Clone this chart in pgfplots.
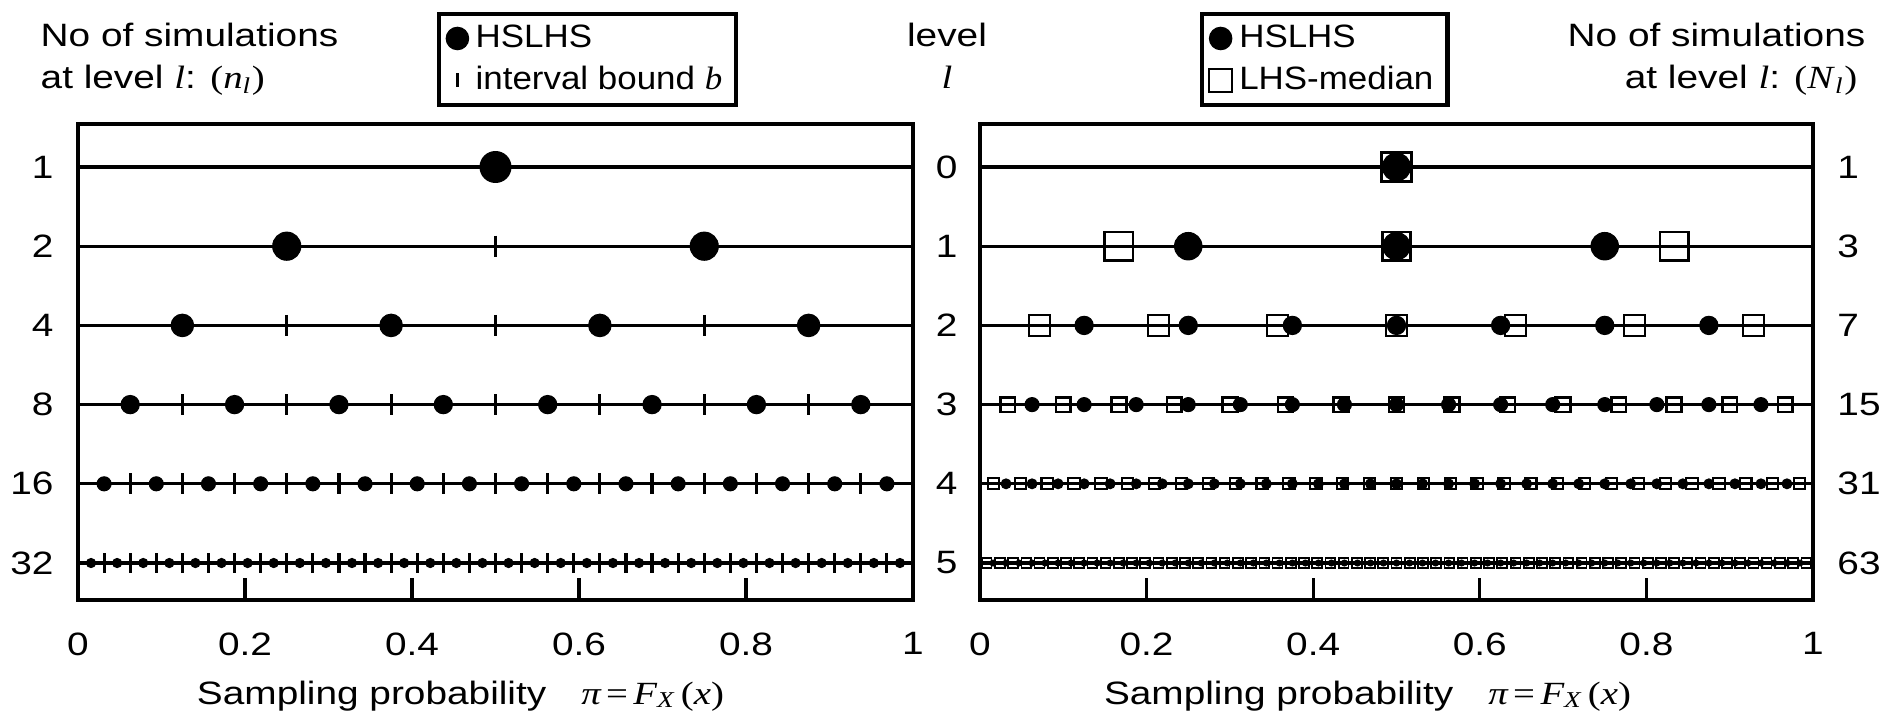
\documentclass[border=0pt]{standalone}
\usepackage{pgfplots}
\pgfplotsset{compat=1.18}
\usepackage{fontspec}
\setmainfont{Liberation Sans}[FakeStretch=1.2]
\newfontfamily\tms{Liberation Serif}[FakeStretch=1.2]
\newfontfamily\lgd{Liberation Sans}[FakeStretch=1.08]
\newfontfamily\lgdtms{Liberation Serif}[FakeStretch=1.08]

\pgfplotsset{
  panel/.style={
    scale only axis, width=83.5mm, height=47.6mm, anchor=south west,
    xmin=0, xmax=1, ymin=0.457, ymax=6.467, y dir=reverse,
    xtick={0,0.2,0.4,0.6,0.8,1}, xticklabels={0,0.2,0.4,0.6,0.8,1},
    xtick pos=bottom, tick align=inside, major tick length=2.2mm,
    xtick style={line width=0.9pt, black},
    xticklabel style={yshift=-2.1mm},
    ytick={1,2,3,4,5,6}, ytick pos=left, ytick style={draw=none},
    axis line style={line width=1.4pt},
    /pgf/number format/assume math mode=true,
    xlabel={Sampling probability\hspace{3.5mm}{\tms\itshape π}\,{\tms =}\,{\tms\itshape F}\textsubscript{\tms\itshape X}\,{\tms(\textit{x})}},
    legend cell align=left,
    legend style={draw=black, line width=1.2pt, inner xsep=2pt, inner ysep=1pt, font=\lgd,
      /tikz/every odd column/.append style={column sep=0pt}},
  },
  row/.style={black, line width=0.9pt, no marks, forget plot},
  dot/.style={black, only marks, mark=*, mark size=#1, mark options={line width=0.3pt}, forget plot},
  bnd/.style={black, only marks, mark=|, mark size=#1, mark options={line width=0.9pt}, forget plot},
  sq/.style={black, only marks, mark=square, mark size=#1, mark options={line width=0.75pt}, forget plot},
}

\begin{document}
\fontsize{9.2}{11}\selectfont
\begin{tikzpicture}
\useasboundingbox (0,0) rectangle (188.1mm,72.1mm);

% titles
\node[anchor=base west, inner sep=0] at (4.0mm,67.4mm) {No of simulations};
\node[anchor=base west, inner sep=0] at (4.0mm,63.2mm) {at level {\tms\itshape l}: {\tms(\textit{n}\textsubscript{\textit{l}})}};
\node[anchor=base, inner sep=0] at (94.7mm,67.4mm) {level};
\node[anchor=base, inner sep=0] at (94.7mm,63.2mm) {\tms\itshape l};
\node[anchor=base east, inner sep=0] at (186.6mm,67.4mm) {No of simulations};
\node[anchor=base east, inner sep=0] at (185.8mm,63.2mm) {at level {\tms\itshape l}: {\tms(\textit{N}\textsubscript{\textit{l}})}};

% ---------------- left panel
\begin{axis}[panel, at={(7.8mm,12.1mm)},
  yticklabels={1,2,4,8,16,32}, yticklabel style={xshift=-1.3mm},
  xlabel style={at={(axis description cs:0.5,0)}, anchor=base, yshift=-10.4mm, xshift=-3.5mm},
  legend style={at={(axis description cs:0.43,1.235)}, anchor=north west}]
\addlegendimage{only marks, black, mark=*, mark size=3.2pt, mark options={line width=0.3pt}}
\addlegendentry{HSLHS}
\addlegendimage{only marks, black, mark=|, mark size=2pt, mark options={line width=0.8pt}}
\addlegendentry{interval bound {\lgdtms\itshape b}}

\addplot[row] coordinates {(0,1) (1,1)};
\addplot[row] coordinates {(0,2) (1,2)};
\addplot[row] coordinates {(0,3) (1,3)};
\addplot[row] coordinates {(0,4) (1,4)};
\addplot[row] coordinates {(0,5) (1,5)};
\addplot[row] coordinates {(0,6) (1,6)};

\addplot[bnd=3pt] coordinates {
 (0.5,2)
 (0.25,3) (0.5,3) (0.75,3)
 (0.125,4) (0.25,4) (0.375,4) (0.5,4) (0.625,4) (0.75,4) (0.875,4)
 (0.0625,5) (0.125,5) (0.1875,5) (0.25,5) (0.3125,5) (0.375,5) (0.4375,5) (0.5,5)
 (0.5625,5) (0.625,5) (0.6875,5) (0.75,5) (0.8125,5) (0.875,5) (0.9375,5)};
\addplot[bnd=2.8pt] coordinates {
 (0.03125,6) (0.0625,6) (0.09375,6) (0.125,6) (0.15625,6) (0.1875,6) (0.21875,6) (0.25,6)
 (0.28125,6) (0.3125,6) (0.34375,6) (0.375,6) (0.40625,6) (0.4375,6) (0.46875,6) (0.5,6)
 (0.53125,6) (0.5625,6) (0.59375,6) (0.625,6) (0.65625,6) (0.6875,6) (0.71875,6) (0.75,6)
 (0.78125,6) (0.8125,6) (0.84375,6) (0.875,6) (0.90625,6) (0.9375,6) (0.96875,6)};

\addplot[dot=4.4pt] coordinates {(0.5,1)};
\addplot[dot=4.0pt] coordinates {(0.25,2) (0.75,2)};
\addplot[dot=3.2pt] coordinates {(0.125,3) (0.375,3) (0.625,3) (0.875,3)};
\addplot[dot=2.6pt] coordinates {(0.0625,4) (0.1875,4) (0.3125,4) (0.4375,4) (0.5625,4) (0.6875,4) (0.8125,4) (0.9375,4)};
\addplot[dot=2.0pt] coordinates {
 (0.03125,5) (0.09375,5) (0.15625,5) (0.21875,5) (0.28125,5) (0.34375,5) (0.40625,5) (0.46875,5)
 (0.53125,5) (0.59375,5) (0.65625,5) (0.71875,5) (0.78125,5) (0.84375,5) (0.90625,5) (0.96875,5)};
\addplot[dot=1.3pt] coordinates {
 (0.015625,6) (0.046875,6) (0.078125,6) (0.109375,6) (0.140625,6) (0.171875,6) (0.203125,6) (0.234375,6)
 (0.265625,6) (0.296875,6) (0.328125,6) (0.359375,6) (0.390625,6) (0.421875,6) (0.453125,6) (0.484375,6)
 (0.515625,6) (0.546875,6) (0.578125,6) (0.609375,6) (0.640625,6) (0.671875,6) (0.703125,6) (0.734375,6)
 (0.765625,6) (0.796875,6) (0.828125,6) (0.859375,6) (0.890625,6) (0.921875,6) (0.953125,6) (0.984375,6)};
\end{axis}

% ---------------- right panel
\begin{axis}[panel, at={(98.0mm,12.1mm)}, width=83.3mm,
  yticklabels={0,1,2,3,4,5}, yticklabel style={xshift=-1.1mm},
  xlabel style={at={(axis description cs:0.5,0)}, anchor=base, yshift=-10.4mm, xshift=-2.9mm},
  legend style={at={(axis description cs:0.264,1.235)}, anchor=north west}]
\addlegendimage{only marks, black, mark=*, mark size=3.2pt, mark options={line width=0.3pt}}
\addlegendentry{HSLHS}
\addlegendimage{only marks, black, mark=square, mark size=3.3pt, mark options={line width=0.5pt}}
\addlegendentry{LHS-median}

\addplot[row] coordinates {(0,1) (1,1)};
\addplot[row] coordinates {(0,2) (1,2)};
\addplot[row] coordinates {(0,3) (1,3)};
\addplot[row] coordinates {(0,4) (1,4)};
\addplot[row] coordinates {(0,5) (1,5)};
\addplot[row] coordinates {(0,6) (1,6)};

% LHS-median
\addplot[sq=4.2pt] coordinates {(0.5,1)};
\addplot[sq=4.0pt] coordinates {(0.1667,2) (0.5,2) (0.8333,2)};
\addplot[sq=3.0pt] coordinates {(0.0714,3) (0.2143,3) (0.3571,3) (0.5,3) (0.6429,3) (0.7857,3) (0.9286,3)};
\addplot[sq=2.1pt] coordinates {
 (0.0333,4) (0.1,4) (0.1667,4) (0.2333,4) (0.3,4) (0.3667,4) (0.4333,4) (0.5,4)
 (0.5667,4) (0.6333,4) (0.7,4) (0.7667,4) (0.8333,4) (0.9,4) (0.9667,4)};
\addplot[sq=1.6pt, mark options={line width=0.6pt}] coordinates {
 (0.0161,5) (0.0484,5) (0.0806,5) (0.1129,5) (0.1452,5) (0.1774,5) (0.2097,5) (0.2419,5)
 (0.2742,5) (0.3065,5) (0.3387,5) (0.371,5) (0.4032,5) (0.4355,5) (0.4677,5) (0.5,5)
 (0.5323,5) (0.5645,5) (0.5968,5) (0.629,5) (0.6613,5) (0.6935,5) (0.7258,5) (0.7581,5)
 (0.7903,5) (0.8226,5) (0.8548,5) (0.8871,5) (0.9194,5) (0.9516,5) (0.9839,5)};
\addplot[sq=1.4pt, mark options={line width=0.5pt}] coordinates {
 (0.0079,6) (0.0238,6) (0.0397,6) (0.0556,6) (0.0714,6) (0.0873,6) (0.1032,6) (0.119,6)
 (0.1349,6) (0.1508,6) (0.1667,6) (0.1825,6) (0.1984,6) (0.2143,6) (0.2302,6) (0.246,6)
 (0.2619,6) (0.2778,6) (0.2937,6) (0.3095,6) (0.3254,6) (0.3413,6) (0.3571,6) (0.373,6)
 (0.3889,6) (0.4048,6) (0.4206,6) (0.4365,6) (0.4524,6) (0.4683,6) (0.4841,6) (0.5,6)
 (0.5159,6) (0.5317,6) (0.5476,6) (0.5635,6) (0.5794,6) (0.5952,6) (0.6111,6) (0.627,6)
 (0.6429,6) (0.6587,6) (0.6746,6) (0.6905,6) (0.7063,6) (0.7222,6) (0.7381,6) (0.754,6)
 (0.7698,6) (0.7857,6) (0.8016,6) (0.8175,6) (0.8333,6) (0.8492,6) (0.8651,6) (0.881,6)
 (0.8968,6) (0.9127,6) (0.9286,6) (0.9444,6) (0.9603,6) (0.9762,6) (0.9921,6)};

% HSLHS
\addplot[dot=4.0pt] coordinates {(0.5,1)};
\addplot[dot=3.9pt] coordinates {(0.25,2) (0.5,2) (0.75,2)};
\addplot[dot=2.6pt] coordinates {(0.125,3) (0.25,3) (0.375,3) (0.5,3) (0.625,3) (0.75,3) (0.875,3)};
\addplot[dot=2.0pt] coordinates {
 (0.0625,4) (0.125,4) (0.1875,4) (0.25,4) (0.3125,4) (0.375,4) (0.4375,4) (0.5,4)
 (0.5625,4) (0.625,4) (0.6875,4) (0.75,4) (0.8125,4) (0.875,4) (0.9375,4)};
\addplot[dot=1.4pt] coordinates {
 (0.03125,5) (0.0625,5) (0.09375,5) (0.125,5) (0.15625,5) (0.1875,5) (0.21875,5) (0.25,5)
 (0.28125,5) (0.3125,5) (0.34375,5) (0.375,5) (0.40625,5) (0.4375,5) (0.46875,5) (0.5,5)
 (0.53125,5) (0.5625,5) (0.59375,5) (0.625,5) (0.65625,5) (0.6875,5) (0.71875,5) (0.75,5)
 (0.78125,5) (0.8125,5) (0.84375,5) (0.875,5) (0.90625,5) (0.9375,5) (0.96875,5)};
\addplot[dot=0.85pt] coordinates {
 (0.015625,6) (0.03125,6) (0.046875,6) (0.0625,6) (0.078125,6) (0.09375,6) (0.109375,6) (0.125,6)
 (0.140625,6) (0.15625,6) (0.171875,6) (0.1875,6) (0.203125,6) (0.21875,6) (0.234375,6) (0.25,6)
 (0.265625,6) (0.28125,6) (0.296875,6) (0.3125,6) (0.328125,6) (0.34375,6) (0.359375,6) (0.375,6)
 (0.390625,6) (0.40625,6) (0.421875,6) (0.4375,6) (0.453125,6) (0.46875,6) (0.484375,6) (0.5,6)
 (0.515625,6) (0.53125,6) (0.546875,6) (0.5625,6) (0.578125,6) (0.59375,6) (0.609375,6) (0.625,6)
 (0.640625,6) (0.65625,6) (0.671875,6) (0.6875,6) (0.703125,6) (0.71875,6) (0.734375,6) (0.75,6)
 (0.765625,6) (0.78125,6) (0.796875,6) (0.8125,6) (0.828125,6) (0.84375,6) (0.859375,6) (0.875,6)
 (0.890625,6) (0.90625,6) (0.921875,6) (0.9375,6) (0.953125,6) (0.96875,6) (0.984375,6)};
\end{axis}

% right-hand labels: number of simulations per level
\begin{axis}[scale only axis, width=83.3mm, height=47.6mm, anchor=south west, at={(98.0mm,12.1mm)},
  xmin=0, xmax=1, ymin=0.457, ymax=6.467, y dir=reverse,
  axis line style={draw=none}, xtick=\empty,
  ytick={1,2,3,4,5,6}, yticklabels={1,3,7,15,31,63},
  ytick pos=right, yticklabel pos=right, ytick style={draw=none},
  yticklabel style={anchor=west, xshift=1.3mm}]
\addplot[draw=none, forget plot] coordinates {(0,1)};
\end{axis}
\end{tikzpicture}
\end{document}
